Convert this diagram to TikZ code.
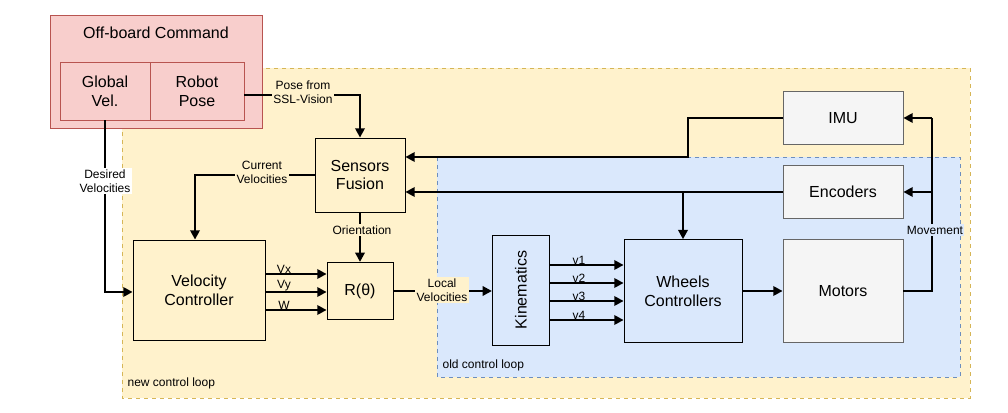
\documentclass[tikz,border=0pt]{standalone}
\usepackage{fontspec}
\setmainfont{Liberation Sans}
\usetikzlibrary{arrows.meta}
\definecolor{pinkfill}{HTML}{F8CECC}
\definecolor{pinkline}{HTML}{B85450}
\definecolor{yelfill}{HTML}{FFF2CC}
\definecolor{yelline}{HTML}{D6B656}
\definecolor{bluefill}{HTML}{DAE8FC}
\definecolor{blueline}{HTML}{6C8EBF}
\definecolor{grayfill}{HTML}{F5F5F5}
\begin{document}
\begin{tikzpicture}[x=0.75pt,y=-0.75pt]
		\tikzstyle{blk}=[draw=black, line width=0.6pt, font=\fontsize{12}{14}\selectfont, align=center, inner sep=0pt]
		\tikzstyle{lbl}=[font=\fontsize{9}{10.5}\selectfont, align=center, inner sep=1pt]
		\tikzstyle{conn}=[line width=2pt, -{Triangle[length=7pt,width=7pt]}]
		\useasboundingbox (0,0) rectangle (1008,413);
		% Regions
		\draw[yelline, fill=yelfill, dashed, line width=0.5pt] (122,68) rectangle (970,398);
		\draw[blueline, fill=bluefill, dashed, line width=0.5pt] (437,157) rectangle (960,377);
		\node[lbl, anchor=west] (newlbl) at (126,383) {new control loop};
		\node[lbl, anchor=west] (oldlbl) at (441,365) {old control loop};
		% Off-board
		\draw[pinkline, fill=pinkfill, line width=0.6pt] (50,15) rectangle (262,128);
		\node[blk, draw=none] (offb) at (156,33) {Off-board Command};
		\node[blk, draw=pinkline, fill=pinkfill, minimum width=67.5pt, minimum height=43.5pt] (gvel) at (105,91) {Global\\Vel.};
		\node[blk, draw=pinkline, fill=pinkfill, minimum width=70.5pt, minimum height=43.5pt] (rpose) at (197,91) {Robot\\Pose};
		% Blocks
		\node[blk, fill=yelfill, minimum width=67.5pt, minimum height=55.5pt] (fusion) at (360,175) {Sensors\\Fusion};
		\node[blk, fill=yelfill, minimum width=99pt, minimum height=75pt] (velc) at (199,290) {Velocity\\Controller};
		\node[blk, fill=yelfill, minimum width=49.5pt, minimum height=43pt] (rot) at (360,291) {R(θ)};
		\node[blk, fill=bluefill, minimum width=43pt, minimum height=82.5pt] (kin) at (521,290) {};
		\node[blk, draw=none, rotate=90] (kintxt) at (521,290) {Kinematics};
		\node[blk, fill=bluefill, minimum width=88.5pt, minimum height=77pt] (wheels) at (683,291) {Wheels\\Controllers};
		\node[blk, draw=black!60, fill=grayfill, minimum width=90pt, minimum height=77pt] (motors) at (843,291) {Motors};
		\node[blk, draw=black!60, fill=grayfill, minimum width=90pt, minimum height=40pt] (enc) at (843,192) {Encoders};
		\node[blk, draw=black!60, fill=grayfill, minimum width=90pt, minimum height=40pt] (imu) at (843,118) {IMU};
		% Connectors
		\coordinate (posec) at (360,95);
		\draw[conn] (rpose.east |- posec) -- (posec) -- (fusion.north);
		\node[lbl, fill=yelfill] (posel) at (303,92) {Pose from\\SSL-Vision};
		\coordinate (desc) at (105,292);
		\draw[conn] (gvel.south) -- (desc) -- (velc.west |- desc);
		\node[lbl, fill=white] (desl) at (105,181) {Desired\\Velocities};
		\coordinate (imua) at (688,118);
		\coordinate (imub) at (688,157);
		\draw[conn] (imu.west) -- (imua) -- (imub) -- (fusion.east |- imub);
		\draw[conn] (enc.west) -- (fusion.east |- enc.west);
		\coordinate (encd) at (683,192);
		\draw[conn] (encd) -- (wheels.north -| encd);
		\coordinate (curc) at (195,175);
		\draw[conn] (fusion.west) -- (curc) -- (velc.north -| curc);
		\node[lbl, fill=yelfill] (curl) at (262,172) {Current\\Velocities};
		\draw[conn] (fusion.south) -- (rot.north);
		\node[lbl, fill=yelfill] (oril) at (362,230) {Orientation};
		\foreach \yy/\tt in {274/Vx, 292/Vy, 310/W}{
			\draw[conn] (velc.east |- 0,\yy) -- (rot.west |- 0,\yy);
			\node[lbl, anchor=south] at (284,\yy+1) {\tt};
		}
		\draw[conn] (rot.east) -- (kin.west |- rot.east);
		\node[lbl, fill=yelfill] (locl) at (442,290) {Local\\Velocities};
		\foreach \yy/\tt in {265/v1, 283/v2, 301/v3, 320/v4}{
			\draw[conn] (kin.east |- 0,\yy) -- (wheels.west |- 0,\yy);
			\node[lbl, anchor=south] at (579,\yy+1) {\tt};
		}
		\draw[conn] (wheels.east) -- (motors.west);
		\coordinate (movc) at (932,291);
		\coordinate (movt) at (932,118);
		\draw[line width=2pt] (motors.east) -- (movc) -- (movt);
		\draw[conn] (movt) -- (imu.east);
		\draw[conn] (movc |- enc.east) -- (enc.east);
		\node[lbl, fill=bluefill] (movl) at (935,230) {Movement};
	\end{tikzpicture}
\end{document}
